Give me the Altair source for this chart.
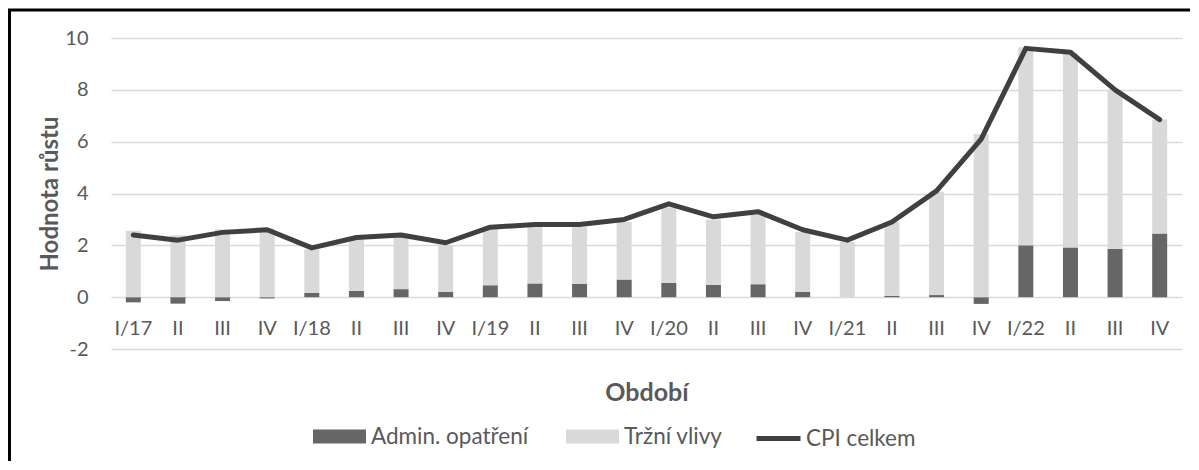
import altair as alt
import pandas as pd

periods = ["I/17", "II/17", "III/17", "IV/17",
           "I/18", "II/18", "III/18", "IV/18",
           "I/19", "II/19", "III/19", "IV/19",
           "I/20", "II/20", "III/20", "IV/20",
           "I/21", "II/21", "III/21", "IV/21",
           "I/22", "II/22", "III/22", "IV/22"]

admin = [-0.2, -0.25, -0.15, -0.05,
         0.17, 0.24, 0.31, 0.2,
         0.46, 0.53, 0.51, 0.68,
         0.55, 0.47, 0.5, 0.2,
         0.0, 0.05, 0.08, -0.26,
         2.0, 1.92, 1.86, 2.46]

trzni = [2.56, 2.39, 2.61, 2.65,
         1.67, 2.03, 2.02, 1.8,
         2.19, 2.17, 2.19, 2.22,
         2.91, 2.53, 2.67, 2.32,
         2.13, 2.86, 3.99, 6.3,
         7.64, 7.48, 6.14, 4.4]

cpi = [2.4, 2.2, 2.5, 2.6,
       1.9, 2.3, 2.4, 2.1,
       2.7, 2.8, 2.8, 3.0,
       3.6, 3.1, 3.3, 2.6,
       2.2, 2.9, 4.1, 6.1,
       9.6, 9.45, 8.0, 6.85]

bar_series = ["Admin. opatření", "Tržní vlivy"]
bar_colors = ["#666666", "#d9d9d9"]
line_series = "CPI celkem"
line_color = "#404040"
y_ticks = [-2, 0, 2, 4, 6, 8, 10]

rows = []
for p, a, t in zip(periods, admin, trzni):
    rows.append({"period": p, "series": bar_series[0], "idx": 0, "value": a})
    rows.append({"period": p, "series": bar_series[1], "idx": 1, "value": t})
bars_df = pd.DataFrame(rows)
line_df = pd.DataFrame({"period": periods, "cpi": cpi, "series": [line_series] * len(periods)})

FONT = "Lato"
TEXT = "#595959"
W, H = 1071, 311

x_enc = alt.X(
    "period:N",
    sort=periods,
    scale=alt.Scale(domain=periods, paddingInner=0, paddingOuter=0),
    axis=alt.Axis(
        title="Období",
        labelExpr="indexof(datum.value, 'I/') == 0 ? datum.value : split(datum.value, '/')[0]",
        labelAngle=0,
        labelFontSize=20,
        labelColor=TEXT,
        labelFont=FONT,
        labelBaseline="middle",
        labelPadding=0,
        offset=-21,
        domain=False,
        ticks=False,
        tickSize=0,
        grid=False,
        titleFontSize=25,
        titleFontWeight="bold",
        titleColor=TEXT,
        titleFont=FONT,
        titlePadding=42,
    ),
)

y_scale = alt.Scale(domain=[-2, 10], nice=False, zero=False)
y_axis = alt.Axis(
    title="Hodnota růstu",
    values=y_ticks,
    labelExpr="datum.value + ''",
    labelFontSize=20,
    labelColor=TEXT,
    labelFont=FONT,
    labelPadding=23,
    domain=False,
    ticks=False,
    tickSize=0,
    grid=True,
    gridColor="#d9d9d9",
    gridWidth=1.5,
    titleFontSize=24,
    titleFontWeight="bold",
    titleColor=TEXT,
    titleFont=FONT,
    titlePadding=2,
)

bars = alt.Chart(bars_df).mark_bar(size=15).encode(
    x=x_enc,
    y=alt.Y("value:Q", stack="zero", scale=y_scale, axis=y_axis),
    color=alt.Color(
        "series:N",
        scale=alt.Scale(domain=bar_series, range=bar_colors),
        legend=alt.Legend(
            title=None,
            orient="none",
            direction="horizontal",
            legendX=202,
            legendY=372,
            symbolType="M-1,-0.26H1V0.26H-1Z",
            symbolSize=2809,
            symbolOpacity=1,
            symbolStrokeWidth=0,
            labelFontSize=22.5,
            labelColor=TEXT,
            labelFont=FONT,
            labelOffset=5,
            columnPadding=37,
            labelLimit=300,
        ),
    ),
    order=alt.Order("idx:Q"),
)

line = alt.Chart(line_df).mark_line(strokeWidth=5, strokeCap="round", strokeJoin="round").encode(
    x=x_enc,
    y=alt.Y("cpi:Q", scale=y_scale, axis=y_axis),
    stroke=alt.Stroke(
        "series:N",
        scale=alt.Scale(domain=[line_series], range=[line_color]),
        legend=alt.Legend(
            title=None,
            orient="none",
            direction="horizontal",
            legendX=643,
            legendY=376,
            symbolType="stroke",
            symbolSize=1936,
            symbolStrokeWidth=5,
            labelFontSize=22.5,
            labelColor=TEXT,
            labelFont=FONT,
            labelOffset=3,
            labelLimit=300,
        ),
    ),
)

frame = alt.Chart(pd.DataFrame({"a": [0]})).mark_rect(
    filled=False, stroke="black", strokeWidth=3, clip=False
).encode(
    x=alt.value(-101.5), x2=alt.value(1150),
    y=alt.value(-28), y2=alt.value(500),
)

chart = alt.layer(bars, line, frame).resolve_scale(
    color="independent", stroke="independent"
).properties(
    width=W, height=H,
    autosize=alt.AutoSizeParams(type="none"),
    padding={"left": 103, "top": 30, "right": 8, "bottom": 112},
).configure(font=FONT).configure_view(strokeWidth=0)

chart.save("out.html", embed_options={"renderer": "svg", "actions": False})
